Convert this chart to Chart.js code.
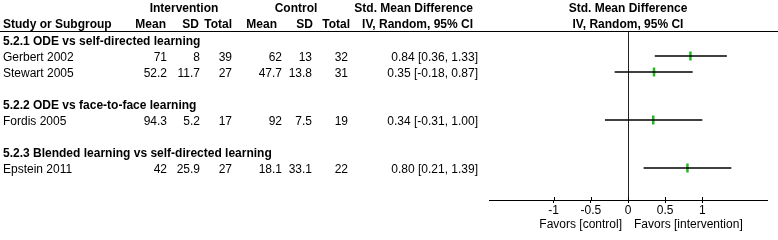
<!DOCTYPE html>
<html>
<head>
<meta charset="utf-8">
<script src="https://cdn.jsdelivr.net/npm/chart.js@4.4.1/dist/chart.umd.min.js"></script>
<style>
  html, body { margin: 0; padding: 0; background: #fff; }
  #wrap { position: relative; width: 778px; height: 240px; overflow: hidden;
          font: 12px "Liberation Sans", Arial, sans-serif; color: #000; }
  #chart { position: absolute; left: 0; top: 0; }
  .t { position: absolute; line-height: 14px; white-space: nowrap; }
  .b { font-weight: bold; }
  #rule { position: absolute; left: 0; top: 31px; width: 778px; height: 0; border-top: 1px solid #000; }
</style>
</head>
<body>
<div id="wrap">
  <canvas id="chart" width="778" height="240"></canvas>
  <div id="rule"></div>
</div>
<script>
// Data
const groups = [
  "5.2.1 ODE vs self-directed learning",
  "5.2.2 ODE vs face-to-face learning",
  "5.2.3 Blended learning vs self-directed learning"
];
const studies = ["Gerbert 2002", "Stewart 2005", "Fordis 2005", "Epstein 2011"];
const studyGroup = [0, 0, 1, 2];
const intMean = ["71", "52.2", "94.3", "42"];
const intSD = ["8", "11.7", "5.2", "25.9"];
const intN = [39, 27, 17, 27];
const ctlMean = ["62", "47.7", "92", "18.1"];
const ctlSD = ["13", "13.8", "7.5", "33.1"];
const ctlN = [32, 31, 19, 22];
const smd = [0.84, 0.35, 0.34, 0.80];
const ciLow = [0.36, -0.18, -0.31, 0.21];
const ciHigh = [1.33, 0.87, 1.00, 1.39];
const xTicks = [-1, -0.5, 0, 0.5, 1];

const wrap = document.getElementById("wrap");
const ROW = 16, TOP = 32;

function text(str, x, cy, align, bold) {
  const d = document.createElement("div");
  d.className = "t" + (bold ? " b" : "");
  d.textContent = str;
  d.style.top = (cy - 7) + "px";
  if (align === "right") {
    d.style.right = (778 - x) + "px";
  } else if (align === "center") {
    d.style.left = (x - 150) + "px";
    d.style.width = "300px";
    d.style.textAlign = "center";
  } else {
    d.style.left = x + "px";
  }
  wrap.appendChild(d);
}

// Kolonneoverskrifter
text("Intervention", 184, 8, "center", true);
text("Control", 296, 8, "center", true);
text("Std. Mean Difference", 473, 8, "right", true);
text("Std. Mean Difference", 628, 8, "center", true);
text("Study or Subgroup", 3, 24, "left", true);
text("Mean", 166, 24, "right", true);
text("SD", 199, 24, "right", true);
text("Total", 232, 24, "right", true);
text("Mean", 277, 24, "right", true);
text("SD", 313, 24, "right", true);
text("Total", 350, 24, "right", true);
text("IV, Random, 95% CI", 473, 24, "right", true);
text("IV, Random, 95% CI", 628, 24, "center", true);

// Rækker: undergruppe, studier, tom linje mellem grupper
const studyRow = [];
let r = 0;
groups.forEach((g, gi) => {
  if (gi > 0) r++;
  text(g, 3, TOP + (r + 0.5) * ROW + 1, "left", true);
  r++;
  studies.forEach((s, i) => {
    if (studyGroup[i] !== gi) return;
    studyRow[i] = r;
    const cy = TOP + (r + 0.5) * ROW + 1;
    text(s, 3, cy, "left");
    text(intMean[i], 167, cy, "right");
    text(intSD[i], 200, cy, "right");
    text(String(intN[i]), 232, cy, "right");
    text(ctlMean[i], 282, cy, "right");
    text(ctlSD[i], 312, cy, "right");
    text(String(ctlN[i]), 348, cy, "right");
    text(smd[i].toFixed(2) + " [" + ciLow[i].toFixed(2) + ", " + ciHigh[i].toFixed(2) + "]", 478, cy, "right");
    r++;
  });
});

text("Favors [control]", 622, 224, "right");
text("Favors [intervention]", 634, 224, "left");

// Forest plot
Chart.defaults.font.family = '"Liberation Sans", Arial, sans-serif';
Chart.defaults.font.size = 12;
Chart.defaults.color = "#000";

const datasets = studies.map((s, i) => ({
  label: s,
  data: [{ x: ciLow[i], y: studyRow[i] }, { x: ciHigh[i], y: studyRow[i] }],
  showLine: true,
  borderColor: "#000",
  borderWidth: 1.5,
  pointRadius: 0
}));
datasets.push({
  label: "SMD",
  data: studies.map((s, i) => ({ x: smd[i], y: studyRow[i] })),
  showLine: false,
  pointStyle: "line",
  rotation: 90,
  pointRadius: 4.5,
  pointBorderWidth: 2.5,
  pointBorderColor: "#22bb22",
  pointBackgroundColor: "#22bb22"
});

// tick-streger går også lidt op over aksen
const tickUp = {
  id: "tickUp",
  afterDraw(chart) {
    const s = chart.scales.x;
    const ctx = chart.ctx;
    ctx.save();
    ctx.strokeStyle = "#000";
    ctx.lineWidth = 1;
    s.ticks.forEach(t => {
      const x = Math.round(s.getPixelForValue(t.value)) + 0.5;
      ctx.beginPath();
      ctx.moveTo(x, s.top - 3);
      ctx.lineTo(x, s.top);
      ctx.stroke();
    });
    ctx.restore();
  }
};

new Chart(document.getElementById("chart").getContext("2d"), {
  type: "scatter",
  data: { datasets },
  plugins: [tickUp],
  options: {
    responsive: false,
    animation: false,
    layout: { padding: { left: 489, right: 11, top: TOP, bottom: 0 } },
    plugins: { legend: { display: false }, tooltip: { enabled: false } },
    scales: {
      x: {
        type: "linear",
        min: -1.87,
        max: 1.87,
        afterBuildTicks: scale => { scale.ticks = xTicks.map(v => ({ value: v })); },
        afterFit: scale => { scale.height = 40; },
        ticks: { callback: v => String(v), padding: 0, maxRotation: 0, color: "#000" },
        grid: {
          drawOnChartArea: true,
          color: c => (c.tick && c.tick.value === 0 ? "#222" : "rgba(0,0,0,0)"),
          tickColor: "#000",
          tickLength: 3,
          lineWidth: 1
        },
        border: { display: true, color: "#000", width: 1 }
      },
      y: {
        type: "linear",
        display: false,
        reverse: true,
        min: -0.5,
        max: 10
      }
    }
  }
});
</script>
</body>
</html>
